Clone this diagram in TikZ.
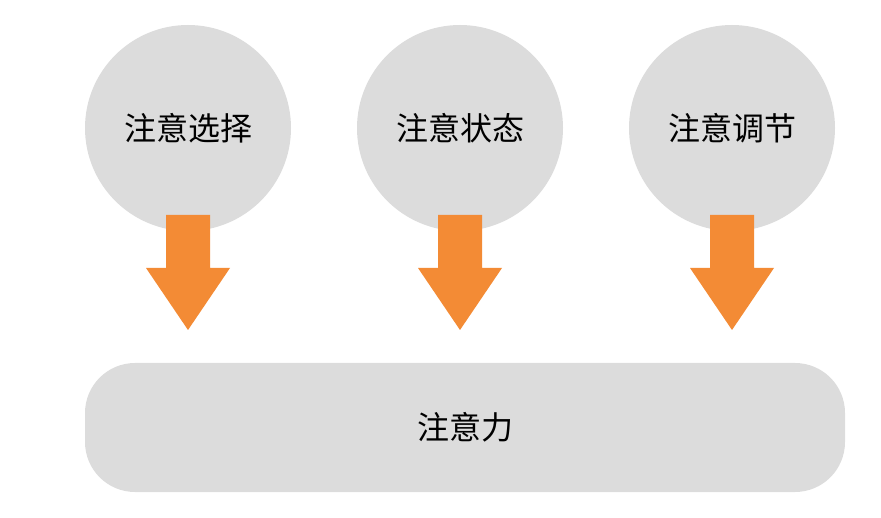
\documentclass[tikz,border=0pt]{standalone}
\usepackage{fontspec}
\newfontfamily\cjk{Noto Sans CJK SC}
\definecolor{gr}{HTML}{DCDCDC}
\definecolor{orng}{HTML}{F38B35}
\begin{document}
\begin{tikzpicture}[x=1pt,y=-1pt,
  circ/.style={circle,fill=gr,minimum size=206pt,inner sep=0pt,font=\cjk\fontsize{32}{36}\selectfont},
  bar/.style={rounded corners=50pt,fill=gr,minimum width=760pt,minimum height=129pt,font=\cjk\fontsize{32}{36}\selectfont}]
\useasboundingbox (0,0) rectangle (881,518);
\node[circ] (c1) at (188,128) {注意选择};
\node[circ] (c2) at (460,128) {注意状态};
\node[circ] (c3) at (732,128) {注意调节};
\node[bar] (b) at (465,427.5) {注意力};
\foreach \n in {c1,c2,c3}{
  \fill[orng] ([shift={(-22,87)}]\n.center) -- ++(44,0) -- ++(0,53) -- ++(20,0)
    -- ([shift={(0,202)}]\n.center) -- ++(-42,-62) -- ++(20,0) -- cycle;
}
\end{tikzpicture}
\end{document}
